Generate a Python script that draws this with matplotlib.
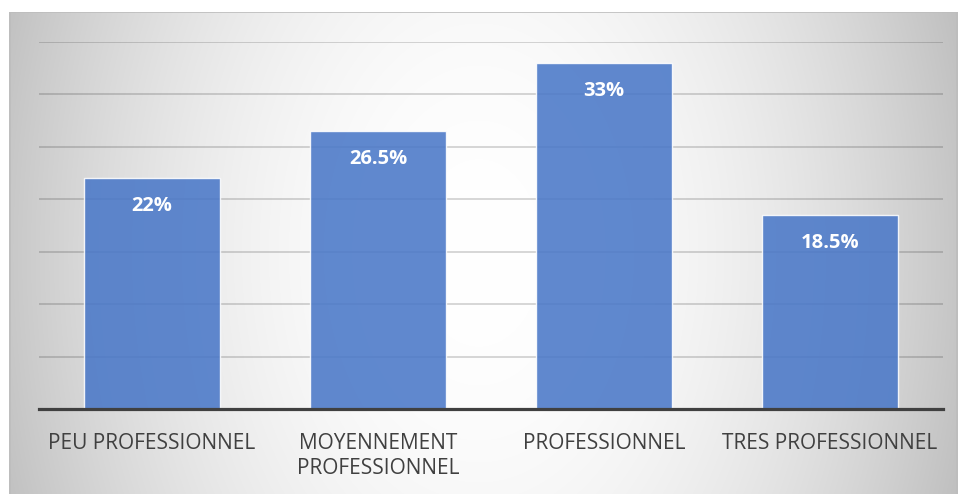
import numpy as np
import matplotlib
matplotlib.use("Agg")
import matplotlib.pyplot as plt
from matplotlib.patches import Rectangle

categories = ["PEU PROFESSIONNEL", "MOYENNEMENT\nPROFESSIONNEL",
              "PROFESSIONNEL", "TRES PROFESSIONNEL"]
values = [22, 26.5, 33, 18.5]
value_labels = ["22%", "26.5%", "33%", "18.5%"]

W, H = 959, 494
fig = plt.figure(figsize=(W / 100, H / 100), dpi=100)
fig.patch.set_facecolor("white")

# Chart-area background: radial grey-to-white gradient
fx0, fy0, fw, fh = 9, 12, 949, 482
bg = fig.add_axes([fx0 / W, 0, fw / W, fh / H])
bg.set_zorder(0)
gx = np.arange(fw)[None, :]
gy = np.arange(fh)[:, None]
cx, cy = fw / 2 - 5, fh / 2
d2 = ((gx - cx) / (fw / 2)) ** 2 + ((gy - cy) / 700.0) ** 2
shade = np.clip(1 - 0.22 * d2, 0, 1)
bg.imshow(np.dstack([shade, shade, shade]), aspect="auto",
          extent=(0, fw, fh, 0), interpolation="bilinear")
bg.set_xlim(0, fw)
bg.set_ylim(fh, 0)
bg.axis("off")
bg.add_patch(Rectangle((0.5, 0.5), fw - 1, fh + 5, fill=False,
                       edgecolor="#bdbdbd", linewidth=1.2))

# Plot area
left, right, top, base = 39, 943, 42, 409
ax = fig.add_axes([left / W, (H - base) / H, (right - left) / W, (base - top) / H])
ax.set_zorder(1)
ax.patch.set_alpha(0)

x = np.arange(len(categories))
ax.set_xlim(-0.5, len(categories) - 0.5)
ax.set_ylim(0, 35)
ax.set_yticks(np.arange(5, 36, 5))
ax.yaxis.grid(True, color="black", alpha=0.17, linewidth=1.3)
ax.set_axisbelow(True)

bars = ax.bar(x, values, width=0.6, color="#4a78c8", alpha=0.88,
              edgecolor=(1, 1, 1, 0.55), linewidth=1.0, zorder=2)

for xi, v, lab in zip(x, values, value_labels):
    ax.annotate(lab, (xi, v), xytext=(0, -20), textcoords="offset points",
                ha="center", va="center", color="white", fontsize=14.5,
                fontweight="bold", family="Open Sans", zorder=4)

for s in ["top", "right", "left"]:
    ax.spines[s].set_visible(False)
ax.spines["bottom"].set_color("#404040")
ax.spines["bottom"].set_linewidth(2.3)
ax.spines["bottom"].set_zorder(5)

ax.set_xticks(x)
ax.set_xticklabels(categories, fontsize=15, color="#404040",
                   family="Open Sans", linespacing=1.3, va="top")
ax.tick_params(axis="x", length=0, pad=17)
ax.tick_params(axis="y", length=0, labelleft=False)

fig.savefig("out.png", dpi=100)
